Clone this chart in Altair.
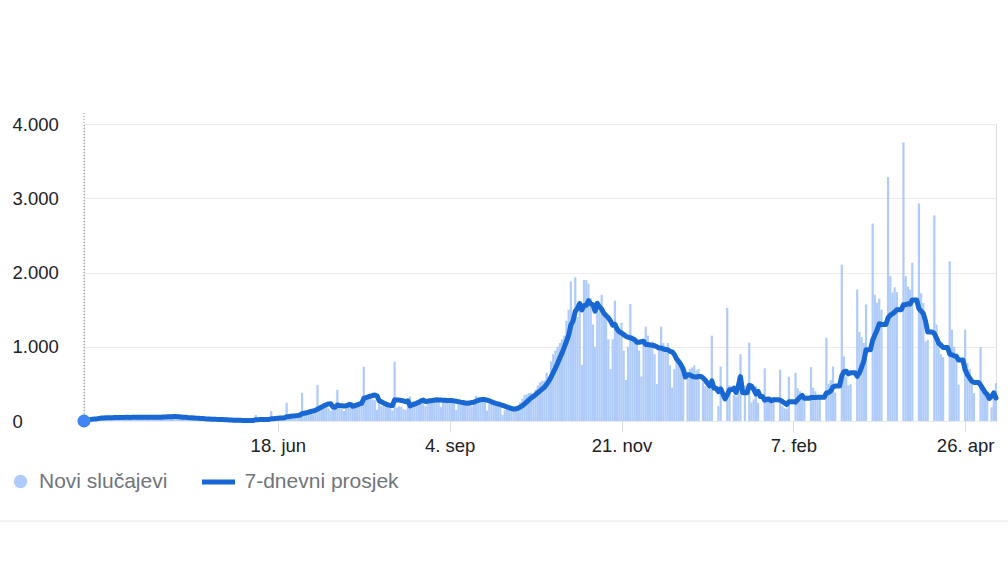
import altair as alt
import pandas as pd

# ---------------- data ----------------
start_date = "2020-03-22"
end_date = "2021-05-10"

# daily new cases, one row per week (7 days), last row partial
cases = [
    0, 20, 35, 30, 40, 45, 40,
    38, 52, 40, 48, 50, 44, 43,
    55, 47, 52, 49, 46, 53, 48,
    44, 58, 51, 47, 55, 45, 50,
    48, 52, 46, 55, 49, 51, 49,
    57, 66, 58, 62, 55, 64, 58,
    50, 48, 44, 42, 47, 40, 44,
    35, 33, 30, 28, 31, 26, 27,
    24, 22, 18, 21, 17, 19, 19,
    14, 12, 9, 8, 10, 9, 8,
    6, 9, 7, 5, 10, 8, 11,
    5, 80, 10, 12, 10, 12, 11,
    15, 135, 25, 28, 30, 32, 15,
    30, 245, 45, 55, 60, 50, 40,
    60, 380, 90, 100, 115, 110, 90,
    120, 485, 200, 215, 230, 190, 170,
    140, 180, 175, 420, 190, 160, 135,
    170, 260, 230, 250, 240, 230, 230,
    220, 730, 300, 320, 310, 290, 280,
    150, 260, 200, 210, 220, 200, 230,
    140, 800, 180, 200, 190, 160, 150,
    220, 330, 260, 270, 280, 260, 270,
    300, 200, 290, 300, 310, 295, 300,
    290, 190, 280, 300, 285, 290, 290,
    260, 150, 250, 255, 250, 240, 275,
    270, 200, 290, 340, 320, 310, 300,
    260, 140, 230, 250, 240, 245, 245,
    190, 80, 150, 170, 180, 165, 185,
    200, 160, 250, 300, 350, 360, 375,
    380, 300, 420, 480, 520, 540, 545,
    650, 600, 800, 900, 950, 1000, 1050,
    1100, 1150, 1350, 1500, 1880, 1410, 1935,
    1400, 1600, 755, 1900, 1900, 1850, 1655,
    1300, 1000, 1500, 1550, 1700, 1450, 1440,
    1100, 700, 1100, 1620, 1250, 1200, 1325,
    950, 550, 1000, 1575, 1150, 1100, 1095,
    950, 600, 1050, 1270, 1150, 1050, 1070,
    900, 500, 950, 1270, 1050, 1000, 1050,
    750, 450, 700, 850, 800, 700, 650,
    0, 650, 700, 720, 750, 680, 700,
    0, 520, 470, 450, 490, 1150, 0,
    0, 200, 735, 0, 0, 1525, 480,
    0, 350, 330, 600, 900, 0, 480,
    0, 1055, 250, 290, 470, 245, 0,
    0, 710, 330, 320, 310, 325, 0,
    0, 690, 200, 170, 165, 595, 0,
    0, 650, 440, 400, 330, 315, 0,
    0, 725, 450, 400, 350, 315, 0,
    0, 1120, 500, 550, 735, 385, 0,
    0, 2105, 870, 600, 480, 495, 0,
    0, 1770, 1200, 1130, 1050, 1570, 0,
    0, 2660, 1700, 1590, 1650, 1500, 0,
    0, 3285, 1950, 1730, 1800, 1735, 0,
    0, 3750, 1950, 1810, 1770, 2130, 0,
    0, 2930, 1720, 1590, 1070, 1090, 0,
    0, 2770, 1300, 1100, 900, 860, 0,
    0, 2150, 1230, 1000, 870, 490, 0,
    0, 1230, 780, 700, 555, 375, 0,
    0, 995, 420, 380, 330, 0, 185,
    350, 510,
]

series_labels = ["Novi slučajevi", "7-dnevni prosjek"]

x_tick_dates = ["2020-06-18", "2020-09-04", "2020-11-21", "2021-02-07", "2021-04-26"]
x_tick_labels = ["18. jun", "4. sep", "21. nov", "7. feb", "26. apr"]

y_ticks = [0, 1000, 2000, 3000, 4000]
y_tick_labels = ["0", "1.000", "2.000", "3.000", "4.000"]

# ---------------- styling ----------------
BAR_COLOR = "#aecbfa"
LINE_COLOR = "#1967d2"
DOT_COLOR = "#4285f4"
FONT = "Liberation Sans"

dates = pd.date_range(start_date, periods=len(cases), freq="D")
df = pd.DataFrame({
    "date": dates.strftime("%Y-%m-%dT00:00:00"),
    "cases": cases,
    "s1": series_labels[0],
    "s2": series_labels[1],
})


def to_dt(s):
    y, m, d = (int(v) for v in s.split("-"))
    return alt.DateTime(year=y, month=m, date=d)


x_label_expr = " : ".join(
    f"timeFormat(datum.value, '%Y-%m-%d') == '{d}' ? '{l}'"
    for d, l in zip(x_tick_dates, x_tick_labels)
) + " : ''"
y_label_expr = " : ".join(
    f"datum.value == {v} ? '{l}'" for v, l in zip(y_ticks, y_tick_labels)
) + " : ''"

x_scale = alt.Scale(domain=[to_dt(start_date), to_dt(end_date)], nice=False, padding=0)
y_scale = alt.Scale(domain=[0, 4000], nice=False)

x_axis = alt.Axis(
    values=[to_dt(d) for d in x_tick_dates], labelExpr=x_label_expr,
    title=None, domain=False, grid=False, tickSize=11, tickColor="#dadce0",
    labelFontSize=18.5, labelColor="#202124", labelFont=FONT, labelPadding=4,
    labelFlush=False, labelOverlap=False,
)
y_axis = alt.Axis(
    values=y_ticks, labelExpr=y_label_expr, title=None, domain=False,
    ticks=False, tickSize=0, grid=True, gridColor="#ebebeb", gridWidth=1,
    labelAlign="left", labelBaseline="middle", labelPadding=72,
    labelFontSize=18.5, labelColor="#202124", labelFont=FONT,
)

base = alt.Chart(df)

bars = base.mark_bar(width=2.2).encode(
    x=alt.X("date:T", scale=x_scale, axis=x_axis),
    y=alt.Y("cases:Q", scale=y_scale, axis=y_axis),
    fill=alt.Fill(
        "s1:N",
        scale=alt.Scale(domain=[series_labels[0]], range=[BAR_COLOR]),
        legend=alt.Legend(
            title=None, orient="none", legendX=-74, legendY=347, padding=0,
            symbolType="circle", symbolSize=180, symbolStrokeWidth=0,
            labelFontSize=21, labelColor="#70757a", labelFont=FONT,
            labelOffset=8,
        ),
    ),
)

avg = base.transform_window(
    avg7="mean(cases)", rn="row_number()", frame=[-6, 0],
    sort=[alt.SortField("date")],
)

line = avg.mark_line(strokeWidth=5, strokeCap="round", strokeJoin="round").encode(
    x=alt.X("date:T", scale=x_scale),
    y=alt.Y("avg7:Q", scale=y_scale),
    stroke=alt.Stroke(
        "s2:N",
        scale=alt.Scale(domain=[series_labels[1]], range=[LINE_COLOR]),
        legend=alt.Legend(
            title=None, orient="none", legendX=115.5, legendY=339, padding=0,
            symbolType="stroke", symbolSize=1089, symbolStrokeWidth=5,
            labelFontSize=21, labelColor="#70757a", labelFont=FONT,
            labelOffset=7,
        ),
    ),
)

first = avg.transform_filter("datum.rn == 1")

hover_rule = first.mark_rule(color="#8a8a8a", strokeWidth=1, strokeDash=[1, 2]).encode(
    x=alt.X("date:T", scale=x_scale), y=alt.value(-11), y2=alt.value(302)
)

dot = first.mark_point(filled=True, size=170, opacity=1, color=DOT_COLOR).encode(
    x=alt.X("date:T", scale=x_scale), y=alt.Y("avg7:Q", scale=y_scale)
)

separator = first.mark_rule(color="#e6e6e6", strokeWidth=1).encode(
    x=alt.value(-84), x2=alt.value(924), y=alt.value(397)
)

chart = alt.layer(bars, line, hover_rule, dot, separator).resolve_scale(
    fill="independent", stroke="independent"
).properties(
    width=912, height=297,
    autosize=alt.AutoSizeParams(type="none"),
    padding={"left": 84, "top": 124, "right": 12, "bottom": 146},
).configure_view(stroke=None).configure(background="white")

chart.save("out.html", embed_options={"renderer": "svg", "actions": False})
